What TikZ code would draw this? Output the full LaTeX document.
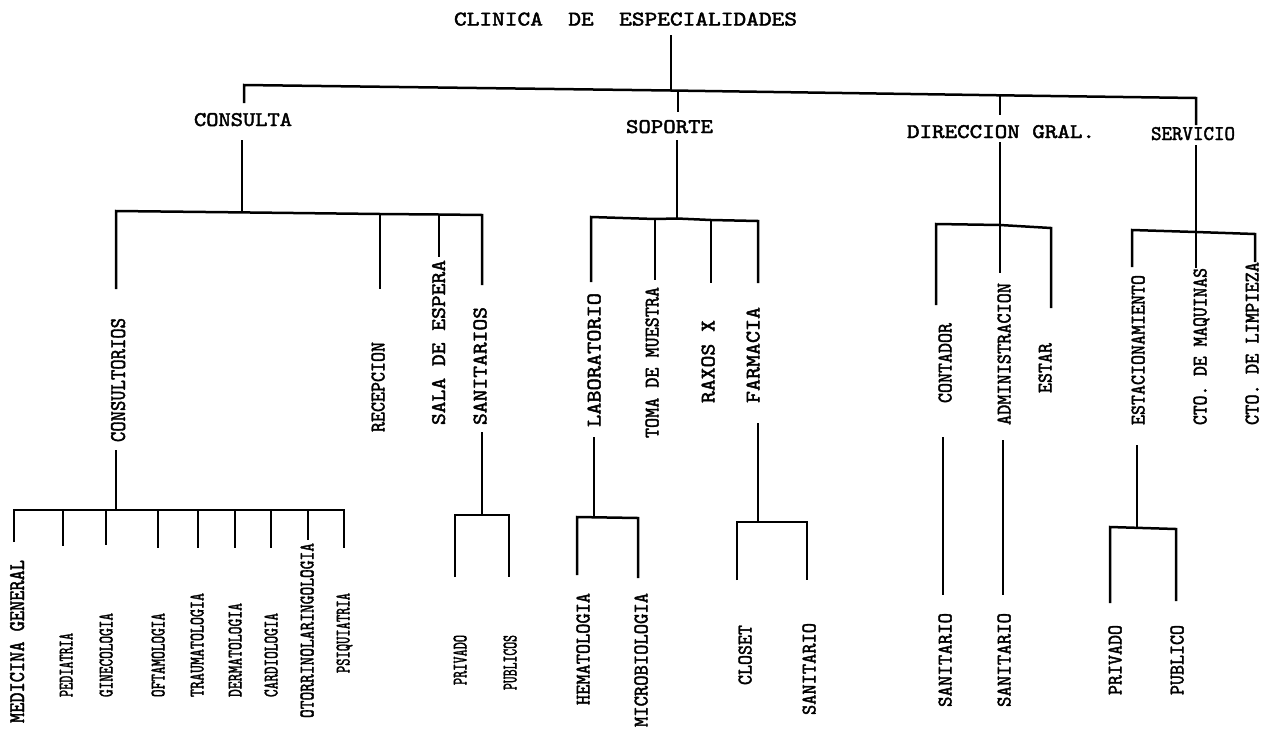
\documentclass[tikz,border=0pt]{standalone}
\usepackage{graphicx}
\usepackage{fontspec}
\newfontfamily\twfont{Latin Modern Mono}[FakeBold=2]
\usetikzlibrary{calc}
\newcommand\fitlbl[3][13]{\raisebox{0pt}[\height][0pt]{\resizebox{#2pt}{#1pt}{\twfont #3}}}
\begin{document}
\begin{tikzpicture}[x=1pt,y=-1pt,
  lbl/.style={inner sep=0pt,outer sep=0pt},
  vl/.style={lbl,rotate=90},
  every path/.style={line width=2.5pt,line join=miter}]
\fill[white] (0,0) rectangle (1263,750);
\useasboundingbox (0,0) rectangle (1263,750);

% ---------- labels ----------
\node[lbl] (T) at (625.5,19) {\fitlbl{343}{CLINICA\ \ DE\ \ ESPECIALIDADES}};
\node[lbl] (CON) at (243,119.5) {\fitlbl{98}{CONSULTA}};
\node[lbl] (SOP) at (669.5,126.5) {\fitlbl{87}{SOPORTE}};
\node[lbl] (DIR) at (1001,131.5) {\fitlbl{188}{DIRECCION GRAL.}};
\node[lbl] (SER) at (1193,133.5) {\fitlbl{84}{SERVICIO}};

% consulta
\node[vl] (CONS) at (118,380) {\fitlbl[14]{124}{CONSULTORIOS}};
\node[vl] (REC) at (378,387) {\fitlbl{90}{RECEPCION}};
\node[vl] (SALA) at (438.5,342.5) {\fitlbl{165}{SALA DE ESPERA}};
\node[vl] (SANS) at (480,366) {\fitlbl{118}{SANITARIOS}};
\node[vl] (MG) at (17,641.5) {\fitlbl[14]{163}{MEDICINA GENERAL}};
\node[vl] (PED) at (66,665) {\fitlbl{64}{PEDIATRIA}};
\node[vl] (GIN) at (106,655) {\fitlbl{84}{GINECOLOGIA}};
\node[vl] (OFT) at (158,655) {\fitlbl{84}{OFTAMOLOGIA}};
\node[vl] (TRA) at (197,645) {\fitlbl{104}{TRAUMATOLOGIA}};
\node[vl] (DER) at (235,650) {\fitlbl{94}{DERMATOLOGIA}};
\node[vl] (CAR) at (271,655) {\fitlbl{84}{CARDIOLOGIA}};
\node[vl] (OTO) at (307,630.5) {\fitlbl{175}{OTORRINOLARINGOLOGIA}};
\node[vl] (PSI) at (343,633) {\fitlbl{80}{PSIQUIATRIA}};
\node[vl] (PRI1) at (460,660) {\fitlbl{50}{PRIVADO}};
\node[vl] (PUB1) at (510,662.5) {\fitlbl{55}{PUBLICOS}};

% soporte
\node[vl] (LAB) at (594,360) {\fitlbl{134}{LABORATORIO}};
\node[vl] (TOMA) at (652,362.5) {\fitlbl{151}{TOMA DE MUESTRA}};
\node[vl] (RAX) at (708,361.5) {\fitlbl{83}{RAXOS X}};
\node[vl] (FAR) at (753,355) {\fitlbl{96}{FARMACIA}};
\node[vl] (HEM) at (583,649) {\fitlbl{112}{HEMATOLOGIA}};
\node[vl] (MIC) at (641,660) {\fitlbl{134}{MICROBIOLOGIA}};
\node[vl] (CLO) at (745,655) {\fitlbl{60}{CLOSET}};
\node[vl] (SAN2) at (809,669) {\fitlbl{92}{SANITARIO}};

% direccion
\node[vl] (CNT) at (945,363) {\fitlbl{80}{CONTADOR}};
\node[vl] (ADM) at (1004,354) {\fitlbl{142}{ADMINISTRACION}};
\node[vl] (EST) at (1045,368) {\fitlbl{50}{ESTAR}};
\node[vl] (SAN3) at (945,660) {\fitlbl{94}{SANITARIO}};
\node[vl] (SAN4) at (1004,660) {\fitlbl{94}{SANITARIO}};

% servicio
\node[vl] (ESTA) at (1138,350) {\fitlbl{150}{ESTACIONAMIENTO}};
\node[vl] (MAQ) at (1200,346.5) {\fitlbl{157}{CTO. DE MAQUINAS}};
\node[vl] (LIM) at (1252,343.5) {\fitlbl{163}{CTO. DE LIMPIEZA}};
\node[vl] (PRI2) at (1115,660) {\fitlbl{70}{PRIVADO}};
\node[vl] (PUB2) at (1177,660) {\fitlbl{70}{PUBLICO}};

% ---------- junctions ----------
\coordinate (jC) at (244,85);
\coordinate (jT) at (671,90.5);
\coordinate (jS) at (678,90.6);
\coordinate (jD) at (1000,95.3);
\coordinate (jV) at (1196,98);

\coordinate (kC) at (242,212.4);
\coordinate (c1) at (116,211);
\coordinate (c2) at (380,214);
\coordinate (c3) at (439,214.5);
\coordinate (c4) at (482,215);

\coordinate (kCo) at (116,510);
\coordinate (d1) at (14,510);
\coordinate (d2) at (63,510);
\coordinate (d3) at (106,510);
\coordinate (d4) at (158,510);
\coordinate (d5) at (198,510);
\coordinate (d6) at (235,510);
\coordinate (d7) at (271,510);
\coordinate (d8) at (308,510);
\coordinate (d9) at (344,510);

\coordinate (s1) at (455,515);
\coordinate (s0) at (482,515);
\coordinate (s2) at (509,515);

\coordinate (kS) at (677,218.5);
\coordinate (p1) at (591,217);
\coordinate (p2) at (655,219);
\coordinate (p3) at (711,220);
\coordinate (p4) at (758,221);

\coordinate (l1) at (577,517);
\coordinate (l0) at (594,517.3);
\coordinate (l2) at (638,518);

\coordinate (f1) at (737,522);
\coordinate (f0) at (758,522);
\coordinate (f2) at (807,522);

\coordinate (kD) at (1000,225);
\coordinate (q1) at (936,224);
\coordinate (q3) at (1051,228);

\coordinate (kV) at (1196,232);
\coordinate (r1) at (1132,230);
\coordinate (r3) at (1255,234);

\coordinate (e1) at (1110,527);
\coordinate (e0) at (1137,528);
\coordinate (e2) at (1176,529);

% ---------- connectors ----------
% level 0
\draw ($(jT |- T.south)+(0,9.5)$) -- (jT);
\draw ($(jC |- CON.north)+(0,-10)$) -- (jC) -- (jT) -- (jS) -- (jD) -- (jV) -- ($(jV |- SER.north)+(0,-2)$);
\draw (jS) -- ($(jS |- SOP.north)+(0,-8)$);
\draw (jD) -- ($(jD |- DIR.north)+(0,-10)$);

% consulta
\draw ($(kC |- CON.south)+(0,14)$) -- (kC);
\draw ($(c1 |- CONS.east)+(0,-29)$) -- (c1) -- (kC) -- (c2) -- (c3) -- (c4) -- ($(c4 |- SANS.east)+(0,-22)$);
\draw (c2) -- ($(c2 |- REC.east)+(0,-53)$);
\draw (c3) -- ($(c3 |- SALA.east)+(0,-3)$);

\draw ($(kCo |- CONS.west)+(0,8)$) -- (kCo);
\draw ($(d1 |- MG.east)+(0,-18)$) -- (d1) -- (d9) -- ($(d9 |- PSI.east)+(0,-45)$);
\draw (d2) -- ($(d2 |- PED.east)+(0,-87)$);
\draw (d3) -- ($(d3 |- GIN.east)+(0,-68)$);
\draw (d4) -- ($(d4 |- OFT.east)+(0,-65)$);
\draw (d5) -- ($(d5 |- TRA.east)+(0,-45)$);
\draw (d6) -- ($(d6 |- DER.east)+(0,-55)$);
\draw (d7) -- ($(d7 |- CAR.east)+(0,-65)$);
\draw (d8) -- ($(d8 |- OTO.east)+(0,-3)$);

\draw ($(s0 |- SANS.west)+(0,7)$) -- (s0);
\draw ($(s1 |- PRI1.east)+(0,-58)$) -- (s1) -- (s2) -- ($(s2 |- PUB1.east)+(0,-58)$);

% soporte
\draw ($(kS |- SOP.south)+(0,7)$) -- (kS);
\draw ($(p1 |- LAB.east)+(0,-11)$) -- (p1) -- (p2) -- (kS) -- (p3) -- (p4) -- ($(p4 |- FAR.east)+(0,-24)$);
\draw (p2) -- ($(p2 |- TOMA.east)+(0,-7)$);
\draw (p3) -- ($(p3 |- RAX.east)+(0,-37)$);

\draw ($(l0 |- LAB.west)+(0,10)$) -- (l0);
\draw ($(l1 |- HEM.east)+(0,-18)$) -- (l1) -- (l2) -- ($(l2 |- MIC.east)+(0,-15)$);

\draw ($(f0 |- FAR.west)+(0,20)$) -- (f0);
\draw ($(f1 |- CLO.east)+(0,-45)$) -- (f1) -- (f2) -- ($(f2 |- SAN2.east)+(0,-43)$);

% direccion
\draw ($(kD |- DIR.south)+(0,4)$) -- (kD);
\draw ($(q1 |- CNT.east)+(0,-18)$) -- (q1) -- (kD) -- (q3) -- ($(q3 |- EST.east)+(0,-35)$);
\draw (kD) -- ($(kD |- ADM.east)+(0,-10)$);
\draw ($(CNT.west)+(-2,34)$) -- ($(SAN3.east)+(-2,-18)$);
\draw ($(ADM.west)+(-1,15)$) -- ($(SAN4.east)+(-1,-18)$);

% servicio
\draw ($(kV |- SER.south)+(0,5)$) -- (kV);
\draw ($(r1 |- ESTA.east)+(0,-8)$) -- (r1) -- (kV) -- (r3) -- (r3 |- LIM.east);
\draw (kV) -- (kV |- MAQ.east);

\draw ($(e0 |- ESTA.west)+(0,20)$) -- (e0);
\draw ($(e1 |- PRI2.east)+(0,-22)$) -- (e1) -- (e2) -- ($(e2 |- PUB2.east)+(0,-24)$);
\end{tikzpicture}
\end{document}
